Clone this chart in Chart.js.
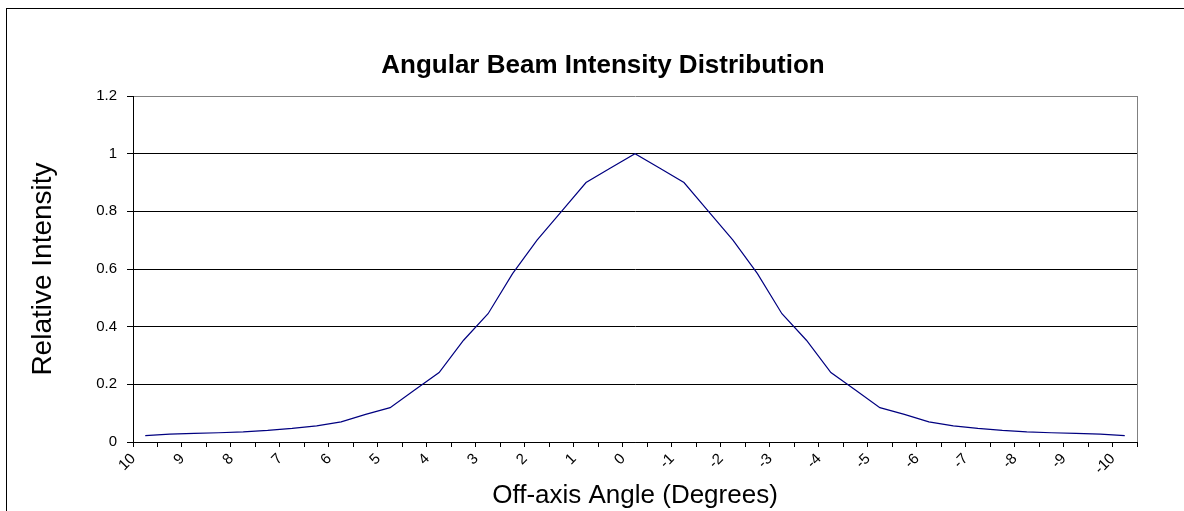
<!DOCTYPE html>
<html>
<head>
<meta charset="utf-8">
<script src="https://cdn.jsdelivr.net/npm/chart.js@4.4.1/dist/chart.umd.min.js"></script>
<style>
    html, body { margin: 0; padding: 0; background: #fff; }
    #beamChart { display: block; }
</style>
</head>
<body>
<canvas id="beamChart" width="1184" height="511"></canvas>
<script>
// Off-axis angle categories (degrees), half-degree steps
const angles = [10, 9.5, 9, 8.5, 8, 7.5, 7, 6.5, 6, 5.5, 5, 4.5, 4, 3.5, 3, 2.5, 2, 1.5, 1, 0.5,
    0, -0.5, -1, -1.5, -2, -2.5, -3, -3.5, -4, -4.5, -5, -5.5, -6, -6.5, -7, -7.5, -8, -8.5, -9, -9.5, -10];

// Relative intensity at each angle
const intensity = [0.022, 0.027, 0.030, 0.032, 0.035, 0.040, 0.047, 0.056, 0.070, 0.096, 0.119, 0.180, 0.241, 0.353, 0.445, 0.584, 0.700, 0.800, 0.900, 0.950,
    1.000, 0.950, 0.900, 0.800, 0.700, 0.584, 0.445, 0.353, 0.241, 0.180, 0.119, 0.096, 0.070, 0.056, 0.047, 0.040, 0.035, 0.032, 0.030, 0.027, 0.022];

const yTicks = [0, 0.2, 0.4, 0.6, 0.8, 1, 1.2];

const chartTitle = 'Angular Beam Intensity Distribution';
const FONT = '"Liberation Sans", Arial, sans-serif';

// outer chart border, grey plot border and the chart title
const framePlugin = {
    id: 'frame',
    afterDraw(chart) {
        const ctx = chart.ctx;
        const area = chart.chartArea;
        ctx.save();
        ctx.strokeStyle = '#000';
        ctx.lineWidth = 1;
        ctx.strokeRect(6.5, 8.5, 2000, 2000);

        ctx.strokeStyle = '#808080';
        ctx.beginPath();
        ctx.moveTo(Math.round(area.right) + 0.5, area.top);
        ctx.lineTo(Math.round(area.right) + 0.5, area.bottom);
        ctx.stroke();

        ctx.fillStyle = '#000';
        ctx.font = 'bold 26px ' + FONT;
        ctx.textAlign = 'center';
        ctx.textBaseline = 'middle';
        ctx.fillText(chartTitle, 603, 66);
        ctx.restore();
    }
};

const ctx = document.getElementById('beamChart').getContext('2d');
new Chart(ctx, {
    type: 'line',
    data: {
        labels: angles,
        datasets: [{
            label: 'Relative Intensity',
            data: intensity,
            borderColor: '#000080',
            borderWidth: 1.2,
            pointRadius: 0,
            tension: 0,
            fill: false
        }]
    },
    options: {
        responsive: false,
        animation: false,
        layout: {
            padding: { top: 96, left: 0, right: 47, bottom: 0 }
        },
        plugins: {
            legend: { display: false },
            tooltip: { enabled: false }
        },
        scales: {
            x: {
                offset: true,
                grid: {
                    offset: true,
                    drawOnChartArea: false,
                    drawTicks: true,
                    tickLength: 5,
                    tickColor: '#000'
                },
                border: { color: '#000', width: 1 },
                ticks: {
                    autoSkip: false,
                    minRotation: 45,
                    maxRotation: 45,
                    labelOffset: -12,
                    padding: 3,
                    color: '#000',
                    font: { family: FONT, size: 15 },
                    callback: function (value, index) {
                        const a = angles[index];
                        return Number.isInteger(a) ? String(a) : '';
                    }
                },
                title: {
                    display: true,
                    text: 'Off-axis Angle (Degrees)',
                    color: '#000',
                    font: { family: FONT, size: 26, lineHeight: 1 },
                    padding: { top: 0, bottom: 2 }
                },
                afterFit(scale) { scale.height = 69; }
            },
            y: {
                min: 0,
                max: 1.2,
                afterBuildTicks(scale) {
                    scale.ticks = yTicks.map(v => ({ value: v }));
                },
                grid: {
                    color: c => (c.tick && Math.abs(c.tick.value - 1.2) < 1e-6) ? '#808080' : '#000',
                    tickColor: '#000',
                    tickLength: 6,
                    lineWidth: 1
                },
                border: { color: '#000', width: 1 },
                ticks: {
                    padding: 10,
                    color: '#000',
                    font: { family: FONT, size: 15 },
                    callback: v => String(Math.round(v * 10) / 10)
                },
                title: {
                    display: true,
                    text: 'Relative Intensity',
                    color: '#000',
                    font: { family: FONT, size: 28, lineHeight: 1.2 },
                    padding: { top: 26, bottom: 0 }
                },
                afterFit(scale) { scale.width = 133; }
            }
        }
    },
    plugins: [framePlugin]
});
</script>
</body>
</html>
